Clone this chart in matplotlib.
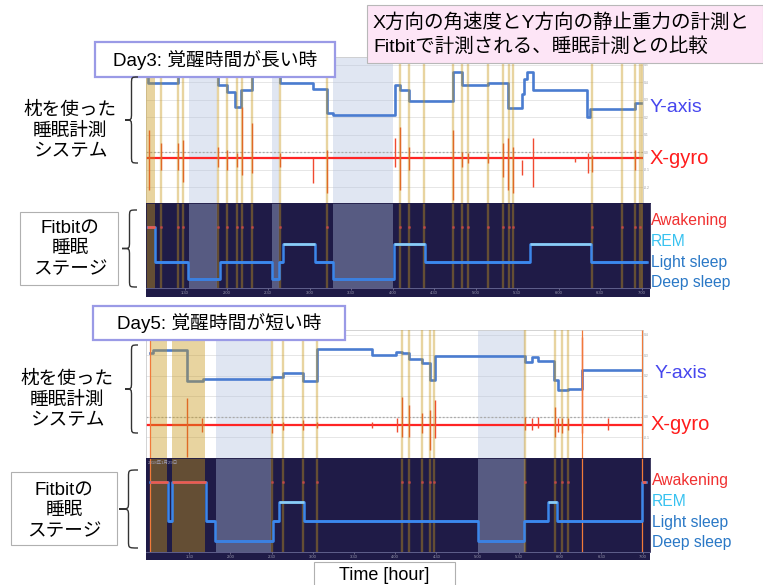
import matplotlib
matplotlib.use('Agg')
import matplotlib.pyplot as plt
from matplotlib.patches import Rectangle, PathPatch
from matplotlib.path import Path

plt.rcParams['font.family'] = ['Liberation Sans', 'Noto Sans CJK JP', 'DejaVu Sans']

# ---------------- data (time in hours) ----------------
tick_pos = [1.5, 2.0, 2.5, 3.0, 3.5, 4.0, 4.5, 5.0, 5.5, 6.0, 6.5, 7.0]
tick_lab = ['1:30', '2:00', '2:30', '3:00', '3:30', '4:00', '4:30', '5:00', '5:30', '6:00', '6:30', '7:00']

# Day3: Y-axis (static gravity) step trace
d3_y_t = [1.03, 1.058, 1.419, 1.901, 2.01, 2.102, 2.175, 2.304, 2.645, 3.046, 3.207, 3.287,
          4.03, 4.09, 4.202, 4.733, 4.834, 5.154, 5.395, 5.557, 5.59, 5.62, 5.689, 6.34, 6.38, 6.922, 6.99]
d3_y_v = [0.45, 0.393, 0.62, 0.383, 0.345, 0.259, 0.354, 0.62, 0.393, 0.358, 0.221, 0.21,
          0.383, 0.354, 0.293, 0.459, 0.383, 0.396, 0.25, 0.33, 0.42, 0.455, 0.354, 0.202, 0.244, 0.282, 0.282]
# Day3: X-gyro spikes
d3_gyro_base = -0.034
d3_spike_t = [1.07, 1.207, 1.419, 1.48, 1.901, 2.01, 2.123, 2.19, 2.304, 2.645,
              3.046, 3.207, 4.03, 4.09, 4.202, 4.733, 4.834, 4.913, 5.154, 5.335,
              5.395, 5.448, 5.557, 5.696, 6.199, 6.359, 6.4, 6.922]
d3_spike_hi = [0.126, 0.05, 0.05, 0.069, 0.03, 0.011, -0.008, 0.259, 0.164, -0.008,
               -0.036, 0.011, 0.078, 0.145, 0.03, 0.126, 0.002, -0.008, -0.008, 0.05,
               0.078, 0.03, -0.046, 0.078, -0.027, -0.008, -0.017, 0.011]
d3_spike_lo = [-0.217, -0.103, -0.103, -0.17, -0.084, -0.103, -0.084, -0.131, -0.122, -0.084,
               -0.179, -0.236, -0.084, -0.217, -0.103, -0.274, -0.084, -0.065, -0.065, -0.141,
               -0.217, -0.236, -0.131, -0.198, -0.055, -0.122, -0.112, -0.103]
# Day3: detected movements (tan lines), long awake bands, light-blue rest periods
d3_marks = [1.207, 1.419, 1.48, 1.901, 2.01, 2.123, 2.19, 2.304, 2.645, 3.207, 4.09, 4.202,
            4.38, 4.733, 4.834, 4.913, 5.154, 5.335, 5.407, 5.455, 6.4, 6.761, 6.922, 6.982]
d3_orange = []
d3_wide = [(1.03, 1.139), (6.99, 7.02)]
d3_rest = [(1.548, 1.886), (2.548, 2.633), (3.283, 4.006)]
# Day3: Fitbit stages (0 deep, 1 light, 2 REM, 3 awake)
d3_stage_t = [1.038, 1.139, 1.533, 1.922, 2.552, 2.636, 2.684, 3.066, 3.287, 4.018, 4.392, 5.657, 6.388, 7.06]
d3_stage = [3, 1, 0, 1, 0, 1, 2, 1, 0, 2, 1, 2, 1]

# Day5
d5_y_t = [1.023, 1.063, 1.468, 1.67, 2.5, 2.641, 2.883, 3.046, 3.714, 4.009, 4.081, 4.166,
          4.32, 4.421, 4.482, 5.574, 5.655, 5.735, 5.93, 5.978, 6.1, 6.262, 6.99]
d5_y_v = [0.312, 0.327, 0.176, 0.185, 0.195, 0.215, 0.176, 0.332, 0.302, 0.317, 0.312, 0.283,
          0.263, 0.18, 0.298, 0.268, 0.293, 0.273, 0.18, 0.132, 0.137, 0.229, 0.229]
d5_gyro_base = -0.039
d5_spike_t = [1.468, 1.65, 2.5, 2.641, 2.883, 3.046, 3.714, 4.017, 4.085, 4.166,
              4.328, 4.421, 4.482, 5.574, 5.655, 5.735, 5.938, 5.978, 6.027, 6.1,
              6.262, 6.585]
d5_spike_hi = [0.091, -0.006, -0.015, -0.023, -0.015, -0.023, -0.023, -0.006, 0.099, 0.059,
               0.018, 0.034, 0.083, 0.002, -0.006, 0.002, 0.05, -0.006, -0.006, -0.006,
               0.392, -0.006]
d5_spike_lo = [-0.194, -0.072, -0.08, -0.063, -0.063, -0.055, -0.055, -0.072, -0.096, -0.096,
               -0.08, -0.161, -0.104, -0.063, -0.063, -0.055, -0.096, -0.072, -0.08, -0.063,
               -0.08, -0.063]
d5_marks = [2.5, 2.641, 2.883, 3.046, 4.081, 4.166, 4.328, 4.421, 4.473, 5.58, 5.938, 6.029, 6.096]
d5_orange = [1.023, 6.262, 6.99]
d5_wide = [(1.023, 1.226), (1.294, 1.691)]
d5_rest = [(1.82, 2.488), (5.0, 5.574)]
d5_stage_t = [1.023, 1.245, 1.29, 1.699, 1.812, 2.512, 2.592, 2.892, 5.0, 5.566, 5.85, 5.966, 6.99, 7.042]
d5_stage = [3, 1, 3, 1, 0, 1, 2, 1, 0, 1, 2, 1, 3]

# ---------------- style ----------------
W, H = 763, 585
DARK = '#1f1b47'
TAN = '#c8981a'
REST = '#b1c1e0'
YCOL = '#4a7cd0'
GYRO = '#ff2424'
SPIKE = '#f04a30'
STAGE_COL = ['#3b80e0', '#3b88ee', '#8ccdf4', '#ef5b4a']

fig = plt.figure(figsize=(7.63, 5.85), dpi=100)


def px_rect(x0, y0, x1, y1):
    return [x0 / W, 1 - y1 / H, (x1 - x0) / W, (y1 - y0) / H]


def draw_day(box_s, box_f, strip, xl_s, xl_f, yl_s, yl_f, yticks,
             y_t, y_v, gbase, sp_t, sp_hi, sp_lo, marks, orange, wide, rest, st_t, st):
    # sensor panel
    ax = fig.add_axes(px_rect(*box_s))
    ax.set_xlim(*xl_s)
    ax.set_ylim(*yl_s)
    for v in yticks:
        ax.axhline(v, color='#e2e2e2', lw=0.6, zorder=0)
    ax.axhline(0, color='#aaaaaa', lw=0.9, ls=(0, (1.5, 1.5)), zorder=0.5)
    for a, b in rest:
        ax.axvspan(a, b, color=REST, alpha=0.39, lw=0, zorder=0.2)
    for a, b in wide:
        ax.axvspan(a, b, color=TAN, alpha=0.41, lw=0, zorder=3)
    ax.plot(y_t, y_v, drawstyle='steps-post', color=YCOL, lw=1.9, zorder=2)
    ax.axhline(gbase, color=GYRO, lw=1.6, zorder=2)
    ax.vlines(sp_t, sp_lo, sp_hi, color=SPIKE, lw=1.0, zorder=2.1)
    ax.vlines(marks, yl_s[0], yl_s[1], color=TAN, alpha=0.41, lw=1.7, zorder=3)
    ax.vlines(orange, yl_s[0], yl_s[1], color='#f07a3a', lw=0.9, zorder=3)
    ax.set_xticks([])
    ax.yaxis.tick_right()
    ax.set_yticks(yticks)
    ax.set_yticklabels([f'{v:.1f}' for v in yticks])
    ax.tick_params(axis='y', labelsize=2.4, colors='#999999', length=0, pad=0.4)
    for s in ax.spines.values():
        s.set_color('#cccccc')
        s.set_linewidth(0.6)

    # fitbit panel
    af = fig.add_axes(px_rect(*box_f))
    af.set_facecolor(DARK)
    af.set_xlim(*xl_f)
    af.set_ylim(*yl_f)
    for a, b in rest:
        af.axvspan(a, b, color=REST, alpha=0.39, lw=0, zorder=0.5)
    for a, b in wide:
        af.axvspan(a, b, color=TAN, alpha=0.41, lw=0, zorder=0.6)
    af.vlines(marks, yl_f[0], yl_f[1], color=TAN, alpha=0.41, lw=1.7, zorder=0.7)
    af.vlines(orange, yl_f[0], yl_f[1], color='#f07a3a', lw=0.9, zorder=0.8)
    af.step(st_t, st + [st[-1]], where='post', color='#3b86ea', lw=1.8, zorder=2)
    af.hlines(st, st_t[:-1], st_t[1:], colors=[STAGE_COL[s] for s in st], lw=1.9, zorder=3)
    af.plot(marks, [3] * len(marks), ls='none', marker='s', ms=1.0, color='#c94848',
            alpha=0.7, zorder=2.5)
    af.set_yticks([])
    af.set_xticks(tick_pos)
    af.set_xticklabels(tick_lab)
    af.tick_params(axis='x', labelsize=3, colors='#9a9ab0', length=1.5, width=0.4, pad=1)
    for k, s in af.spines.items():
        s.set_color('#6a6a96' if k == 'bottom' else DARK)
        s.set_linewidth(0.6)
    fig.add_artist(Rectangle((strip[0] / W, 1 - strip[3] / H), (strip[2] - strip[0]) / W,
                             (strip[3] - strip[1]) / H, transform=fig.transFigure,
                             fc=DARK, ec='none', zorder=-1))
    return ax, af


draw_day((146, 57, 643, 203), (146, 203, 650, 288), (146, 288, 650, 297),
         (1.03, 7.018), (1.03, 7.102), (-0.291, 0.543), (-0.52, 4.39),
         [0.5, 0.4, 0.3, 0.2, 0.1, 0.0, -0.1, -0.2],
         d3_y_t, d3_y_v, d3_gyro_base, d3_spike_t, d3_spike_hi, d3_spike_lo,
         d3_marks, d3_orange, d3_wide, d3_rest, d3_stage_t, d3_stage)

ax5, af5 = draw_day((146, 330, 643, 458), (146, 458, 650, 552), (146, 552, 650, 560),
                    (0.975, 7.006), (0.975, 7.091), (-0.2, 0.424), (-0.56, 4.21),
                    [0.4, 0.3, 0.2, 0.1, 0.0, -0.1],
                    d5_y_t, d5_y_v, d5_gyro_base, d5_spike_t, d5_spike_hi, d5_spike_lo,
                    d5_marks, d5_orange, d5_wide, d5_rest, d5_stage_t, d5_stage)
af5.text(0.003, 0.97, '2018年1月29日', transform=af5.transAxes, fontsize=3.2,
         color='#a0a0b8', va='top', ha='left')

# ---------------- overlay annotations (pixel coordinates) ----------------
ov = fig.add_axes([0, 0, 1, 1], zorder=5)
ov.set_xlim(0, W)
ov.set_ylim(H, 0)
ov.axis('off')


def brace(xl, xr, yt, yb):
    xm = (xl + xr) / 2
    ym = (yt + yb) / 2
    d = 7
    verts = [(xr, yt), (xm, yt), (xm, yt), (xm, yt + d),
             (xm, ym - d),
             (xm, ym), (xm, ym), (xl, ym),
             (xm, ym), (xm, ym), (xm, ym + d),
             (xm, yb - d),
             (xm, yb), (xm, yb), (xr, yb)]
    codes = [Path.MOVETO, Path.CURVE4, Path.CURVE4, Path.CURVE4,
             Path.LINETO,
             Path.CURVE4, Path.CURVE4, Path.CURVE4,
             Path.CURVE4, Path.CURVE4, Path.CURVE4,
             Path.LINETO,
             Path.CURVE4, Path.CURVE4, Path.CURVE4]
    ov.add_patch(PathPatch(Path(verts, codes), fc='none', ec='#333333', lw=1.0))


# title box
ov.add_patch(Rectangle((367, 5), 396, 58, fc='#fde5f6', ec='#b8b8b8', lw=0.8))
ov.text(373, 23, 'X方向の角速度とY方向の静止重力の計測と', fontsize=14, va='center', ha='left')
ov.text(373, 47, 'Fitbitで計測される、睡眠計測との比較', fontsize=14, va='center', ha='left')

# day labels
ov.add_patch(Rectangle((95, 42), 240, 35, fc='white', ec='#9a9ae6', lw=1.6))
ov.text(215, 60, 'Day3: 覚醒時間が長い時', fontsize=13.5, va='center', ha='center')
ov.add_patch(Rectangle((93, 306), 252, 34, fc='white', ec='#9a9ae6', lw=1.6))
ov.text(219, 323, 'Day5: 覚醒時間が短い時', fontsize=13.5, va='center', ha='center')

# left labels
ov.text(70, 131, '枕を使った\n睡眠計測\nシステム', fontsize=13.4, ha='center', va='center',
        linespacing=1.25)
ov.add_patch(Rectangle((20, 212), 98, 73, fc='white', ec='#b0b0b0', lw=0.8))
ov.text(70, 249, 'Fitbitの\n睡眠\nステージ', fontsize=13.4, ha='center', va='center',
        linespacing=1.25)
ov.text(67, 400, '枕を使った\n睡眠計測\nシステム', fontsize=13.4, ha='center', va='center',
        linespacing=1.25)
ov.add_patch(Rectangle((11, 472), 106, 73, fc='white', ec='#b0b0b0', lw=0.8))
ov.text(64, 511, 'Fitbitの\n睡眠\nステージ', fontsize=13.4, ha='center', va='center',
        linespacing=1.25)

brace(125, 138, 77, 163)
brace(122, 137, 210, 287)
brace(125, 138, 345, 433)
brace(119, 138, 470, 548)

# right labels
for x, y, s, c, fs in [(650, 107, 'Y-axis', '#4646ee', 14), (650, 159, 'X-gyro', '#ff1c1c', 14.5),
                       (651, 221, 'Awakening', '#f03030', 11.3), (651, 241, 'REM', '#38c2f0', 11.3),
                       (651, 263, 'Light sleep', '#2a78c6', 11.3), (651, 282, 'Deep sleep', '#2a78c6', 11.3),
                       (655, 374, 'Y-axis', '#4646ee', 14), (651, 425, 'X-gyro', '#ff1c1c', 14.5),
                       (652, 481, 'Awakening', '#f03030', 11.3), (652, 502, 'REM', '#38c2f0', 11.3),
                       (652, 523, 'Light sleep', '#2a78c6', 11.3), (652, 542, 'Deep sleep', '#2a78c6', 11.3)]:
    ov.text(x, y, s, color=c, fontsize=fs, va='center', ha='left')

# time axis label
ov.add_patch(Rectangle((314, 562), 141, 26, fc='white', ec='#b0b0b0', lw=0.8))
ov.text(384.5, 575, 'Time [hour]', fontsize=13, ha='center', va='center')

fig.savefig('out.png', dpi=100)
